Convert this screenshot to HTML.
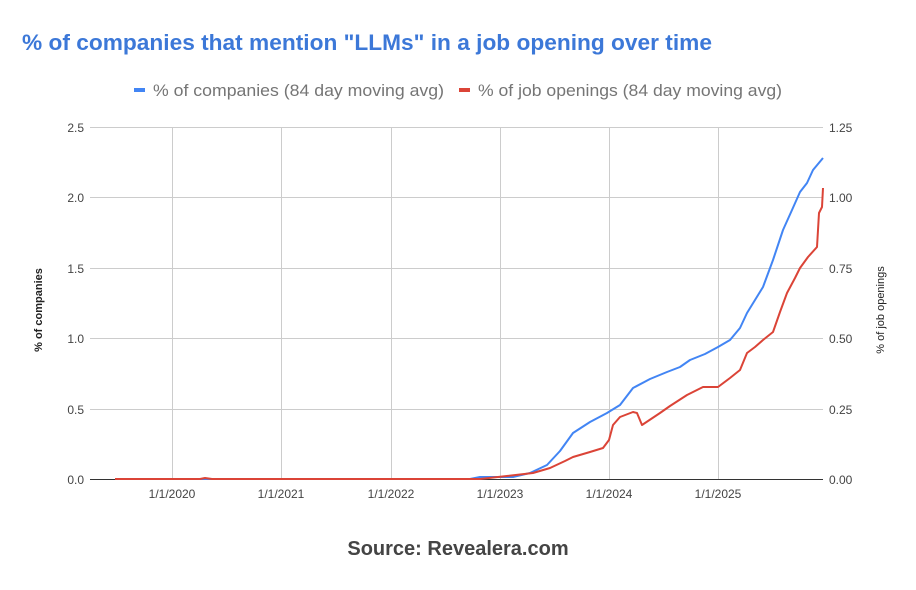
<!DOCTYPE html>
<html><head><meta charset="utf-8"><style>body{margin:0;background:#fff}svg{display:block}</style></head>
<body>
<svg width="916" height="590" xmlns="http://www.w3.org/2000/svg" font-family="Liberation Sans, sans-serif">
<rect width="916" height="590" fill="#fff"/>
<text x="22" y="50" font-size="22" font-weight="bold" fill="#3c78d8" textLength="690" lengthAdjust="spacingAndGlyphs">% of companies that mention "LLMs" in a job opening over time</text>
<rect x="134" y="88" width="11" height="4" fill="#4285f4"/>
<text x="153" y="96" font-size="17" fill="#757575" textLength="291" lengthAdjust="spacingAndGlyphs">% of companies (84 day moving avg)</text>
<rect x="459" y="88" width="11" height="4" fill="#db4437"/>
<text x="478" y="96" font-size="17" fill="#757575" textLength="304" lengthAdjust="spacingAndGlyphs">% of job openings (84 day moving avg)</text>
<g stroke="#ccc" stroke-width="1">
<line x1="90" y1="127.5" x2="823" y2="127.5"/><line x1="90" y1="197.5" x2="823" y2="197.5"/>
<line x1="90" y1="268.5" x2="823" y2="268.5"/><line x1="90" y1="338.5" x2="823" y2="338.5"/>
<line x1="90" y1="409.5" x2="823" y2="409.5"/>
<line x1="172.5" y1="127" x2="172.5" y2="479"/><line x1="281.5" y1="127" x2="281.5" y2="479"/>
<line x1="391.5" y1="127" x2="391.5" y2="479"/><line x1="500.5" y1="127" x2="500.5" y2="479"/>
<line x1="609.5" y1="127" x2="609.5" y2="479"/><line x1="718.5" y1="127" x2="718.5" y2="479"/>
</g>
<line x1="90" y1="479.5" x2="823" y2="479.5" stroke="#333" stroke-width="1"/>
<g font-size="12" fill="#444" text-anchor="end">
<text x="84" y="132">2.5</text><text x="84" y="202">2.0</text><text x="84" y="273">1.5</text><text x="84" y="343">1.0</text><text x="84" y="414">0.5</text><text x="84" y="484">0.0</text>
</g>
<g font-size="12" fill="#444" text-anchor="start">
<text x="829" y="132">1.25</text><text x="829" y="202">1.00</text><text x="829" y="273">0.75</text><text x="829" y="343">0.50</text><text x="829" y="414">0.25</text><text x="829" y="484">0.00</text>
</g>
<g font-size="12" fill="#444" text-anchor="middle">
<text x="172" y="498">1/1/2020</text><text x="281" y="498">1/1/2021</text><text x="391" y="498">1/1/2022</text><text x="500" y="498">1/1/2023</text><text x="609" y="498">1/1/2024</text><text x="718" y="498">1/1/2025</text>
</g>
<text transform="translate(42,310) rotate(-90)" font-size="11" font-weight="bold" fill="#222" text-anchor="middle">% of companies</text>
<text transform="translate(884,310) rotate(-90)" font-size="11" fill="#222" text-anchor="middle">% of job openings</text>
<polyline fill="none" stroke="#4285f4" stroke-width="2" stroke-linejoin="round" points="115,479 470,479 480,477 513,477 530,473 547,465 560,451 573,433 590,422 607,413 620,405 633,388 650,379 667,372 680,367 690,360 705,354 718,347 730,340 740,328 747,313 755,300 763,287 773,260 783,230 792,210 800,192 807,183 813,170 818,164 823,158"/>
<polyline fill="none" stroke="#db4437" stroke-width="2" stroke-linejoin="round" points="115,479 200,479 205,478 212,479 480,479 533,473 550,468 565,461 573,457 590,452 603,448 609,440 613,425 620,417 633,412 637,413 642,425 660,413 670,406 687,395 703,387 718,387 730,378 740,370 747,353 755,347 763,340 773,332 780,312 787,293 795,278 800,268 808,257 817,247 818,230 819,213 822,207 823,188"/>
<text x="458" y="555" font-size="20" font-weight="bold" fill="#444" text-anchor="middle">Source: Revealera.com</text>
</svg>
</body></html>
